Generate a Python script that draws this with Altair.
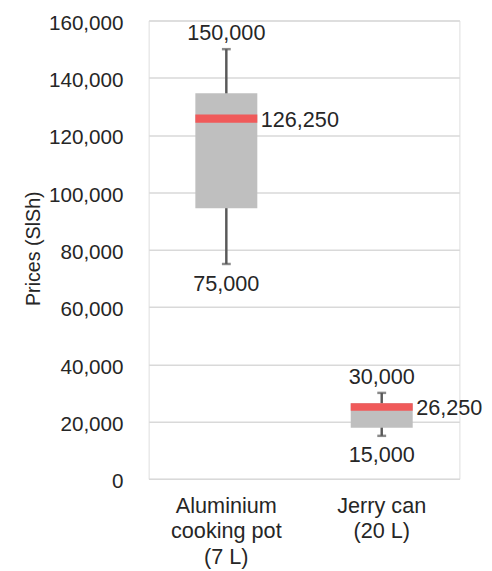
import altair as alt
import pandas as pd

categories = ["Aluminium\ncooking pot\n(7 L)", "Jerry can\n(20 L)"]
min_vals = [75000, 15000]
q1_vals = [94500, 17800]
q3_vals = [134600, 26400]
max_vals = [150000, 30000]
band_lo = [124300, 23800]
band_hi = [127150, 26400]
median_vals = [126250, 26250]
y_ticks = [0, 20000, 40000, 60000, 80000, 100000, 120000, 140000, 160000]

df = pd.DataFrame({
    "cat": categories,
    "min": min_vals,
    "q1": q1_vals,
    "q3": q3_vals,
    "max": max_vals,
    "blo": band_lo,
    "bhi": band_hi,
    "median": median_vals,
})
df["bmid"] = (df["blo"] + df["bhi"]) / 2

LBL = "Liberation Sans, Arial, sans-serif"
REG = "Liberation Sans, Arial, sans-serif"
TXT = "#262626"

x = alt.X("cat:N", sort=categories,
          scale=alt.Scale(paddingInner=0, paddingOuter=0),
          axis=alt.Axis(title=None, labelAngle=0, ticks=False, domain=False,
                        labelExpr="split(datum.label, '\\n')",
                        labelFont=REG, labelFontSize=22, labelColor=TXT,
                        labelPadding=17, labelLineHeight=26, labelBaseline="top"))
yscale = alt.Scale(domain=[0, 160000], nice=False)
yaxis = alt.Axis(title="Prices (SlSh)", values=y_ticks,
                 labelExpr="format(datum.value, ',')",
                 ticks=False, domain=False, grid=True,
                 gridColor="#d9d9d9", gridWidth=1.5,
                 labelFont=REG, labelFontSize=21, labelColor=TXT,
                 labelPadding=26, labelOffset=3,
                 titleFont=REG, titleFontSize=20, titleFontWeight="normal",
                 titleColor=TXT, titleX=-111, titleY=231.5,
                 titleAlign="center", titleBaseline="alphabetic", titleAngle=-90)


def Y(field):
    return alt.Y(f"{field}:Q", scale=yscale, axis=yaxis, title="Prices (SlSh)")


base = alt.Chart(df).encode(x=x)

whisker = base.mark_rule(color="#595959", strokeWidth=2.5).encode(y=Y("min"), y2="max:Q")
cap_lo = base.mark_tick(color="#595959", thickness=2.5, size=9, orient="horizontal").encode(y=Y("min"))
cap_hi = base.mark_tick(color="#595959", thickness=2.5, size=9, orient="horizontal").encode(y=Y("max"))
box = base.mark_bar(color="#BFBFBF", size=63).encode(y=Y("q1"), y2="q3:Q")
band = base.mark_bar(color="#F05A5A", size=63).encode(y=Y("blo"), y2="bhi:Q")

top_lbl = base.mark_text(font=LBL, fontSize=22, color=TXT, baseline="alphabetic",
                         align="center", dy=-9).encode(
    y=Y("max"), text=alt.Text("max:Q", format=","))
bot_lbl = base.mark_text(font=LBL, fontSize=22, color=TXT, baseline="top",
                         align="center", dy=10).encode(
    y=Y("min"), text=alt.Text("min:Q", format=","))
med_lbl = base.mark_text(font=LBL, fontSize=22, color=TXT, baseline="middle",
                         align="left", dx=35, dy=1.5).encode(
    y=Y("bmid"), text=alt.Text("median:Q", format=","))

chart = alt.layer(whisker, cap_lo, cap_hi, box, band, top_lbl, bot_lbl, med_lbl).properties(
    width=316, height=466,
    autosize=alt.AutoSizeParams(type="none"),
    padding={"left": 143, "top": 8, "right": 25, "bottom": 88},
).configure_view(stroke=None).configure(background="white")

chart.save("out.html", embed_options={"renderer": "svg", "actions": False})
